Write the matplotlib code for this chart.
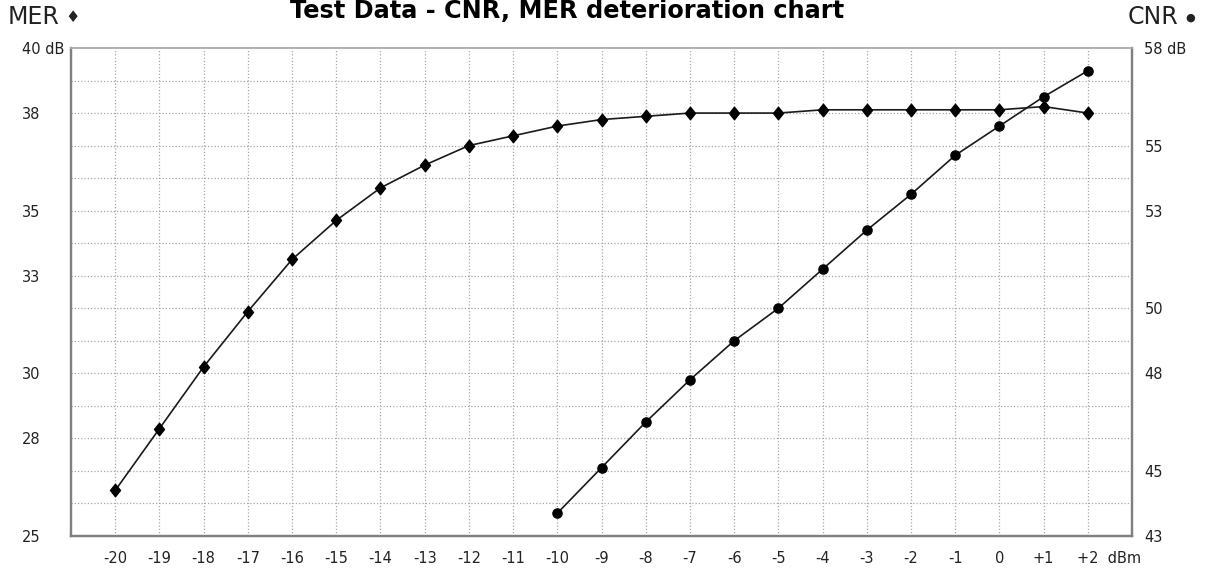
import matplotlib
matplotlib.use("Agg")
import matplotlib.pyplot as plt
from matplotlib.path import Path
from matplotlib.transforms import offset_copy

# input level, dBm
levels = list(range(-20, 3))
mer_db = [26.4, 28.3, 30.2, 31.9, 33.5, 34.7, 35.7, 36.4, 37.0, 37.3, 37.6,
          37.8, 37.9, 38.0, 38.0, 38.0, 38.1, 38.1, 38.1, 38.1, 38.1, 38.2, 38.0]

cnr_levels = list(range(-10, 3))
cnr_db = [43.7, 45.1, 46.5, 47.8, 49.0, 50.0, 51.2, 52.4, 53.5, 54.7, 55.6, 56.5, 57.3]

xtick_labels = ["-20", "-19", "-18", "-17", "-16", "-15", "-14", "-13", "-12", "-11",
                "-10", "-9", "-8", "-7", "-6", "-5", "-4", "-3", "-2", "-1", "0",
                "+1", "+2  dBm"]
mer_ticks = [40, 38, 35, 33, 30, 28, 25]
mer_tick_labels = ["40 dB", "38", "35", "33", "30", "28", "25"]
cnr_ticks = [58, 55, 53, 50, 48, 45, 43]
cnr_tick_labels = ["58 dB", "55", "53", "50", "48", "45", "43"]

lab_font = "DejaVu Sans"
txt_col = "#222222"

# slightly tall diamond, like the original marker
tall_diamond = Path([(0, 1), (0.8, 0), (0, -1), (-0.8, 0), (0, 1)],
                    [Path.MOVETO, Path.LINETO, Path.LINETO, Path.LINETO, Path.CLOSEPOLY])

fig = plt.figure(figsize=(12.07, 5.69), dpi=100)
ax = fig.add_axes([71 / 1207, 33 / 569, 1061 / 1207, 488 / 569])
ax2 = ax.twinx()

ax.set_xlim(-21, 3)
ax.set_ylim(25, 40)
ax2.set_ylim(43, 58)

# dotted grid, one line per dB / per dBm
for x in range(-20, 3):
    ax.axvline(x, color="#a8a8a8", lw=0.9, ls=(0, (1, 1.6)), zorder=0)
for y in range(26, 40):
    ax.axhline(y, color="#a8a8a8", lw=0.9, ls=(0, (1, 1.6)), zorder=0)

ax.plot(levels, mer_db, color="#1a1a1a", lw=1.2, marker=tall_diamond, ms=9,
        mfc="black", mec="black", zorder=3)
ax2.plot(cnr_levels, cnr_db, color="#1a1a1a", lw=1.2, marker="o", ms=6.6,
         mfc="black", mec="black", zorder=3)

ax.set_xticks(levels)
ax.set_xticklabels(xtick_labels, fontsize=10.5, family=lab_font, color=txt_col)
ax.tick_params(axis="x", length=0, pad=11)

ax.set_yticks(mer_ticks)
ax.set_yticklabels(mer_tick_labels, fontsize=10.5, family=lab_font, color=txt_col,
                   ha="left")
ax.tick_params(axis="y", length=0, pad=35.3)

ax2.set_yticks(cnr_ticks)
ax2.set_yticklabels(cnr_tick_labels, fontsize=10.5, family=lab_font, color=txt_col)
ax2.tick_params(axis="y", length=0, pad=9)

for a in (ax, ax2):
    for s in a.spines.values():
        s.set_color("#808080")
        s.set_linewidth(1.6)
    a.spines["top"].set_color("#b0b0b0")
    a.spines["top"].set_linewidth(1.2)

# the last x label carries the unit; shift it so "+2" sits on its gridline
last = ax.get_xticklabels()[-1]
last.set_ha("left")
last.set_transform(offset_copy(last.get_transform(), fig=fig, x=-7.9, units="points"))

fig.text(567.5 / 1207, 1 - 18.5 / 569, "Test Data - CNR, MER deterioration chart",
         ha="center", va="baseline", fontsize=17.3, fontweight="bold",
         family="DejaVu Sans")

# series keys in the top corners
fig.text(8 / 1207, 1 - 17.5 / 569, "MER", ha="left", va="center",
         fontsize=17, family=lab_font, color=txt_col)
fig.text(72 / 1207, 1 - 18 / 569, "\u2666", ha="center", va="center",
         fontsize=11.5, family=lab_font, color=txt_col)
fig.text(1178 / 1207, 1 - 17.5 / 569, "CNR", ha="right", va="center",
         fontsize=17, family=lab_font, color=txt_col)
fig.text(1190 / 1207, 1 - 18 / 569, "\u25cf", ha="center", va="center",
         fontsize=8, family=lab_font, color=txt_col)

fig.savefig("out.png", dpi=100)
